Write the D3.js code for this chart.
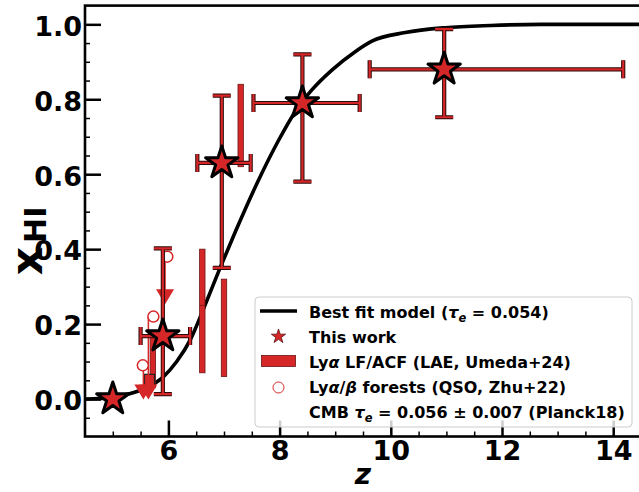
<!DOCTYPE html>
<html>
<head>
<meta charset="utf-8">
<script src="https://cdn.jsdelivr.net/npm/d3@7"></script>
<style>
  body { margin: 0; background: #fff; }
  svg { display: block; font-family: "DejaVu Sans", sans-serif; }
</style>
</head>
<body>
<svg id="chart" width="639" height="492"></svg>
<script>
// best fit model (tau_e = 0.054)
const modelZ = [4.5, 5.0, 5.3, 5.6, 5.9, 6.15, 6.4, 6.63, 6.93, 7.2, 7.62, 7.98, 8.28, 8.58, 8.94, 9.36, 9.66, 10.26, 10.98, 11.8, 12.7, 14.5];
const modelX = [0.0, 0.004, 0.014, 0.03, 0.058, 0.1, 0.16, 0.24, 0.35, 0.445, 0.584, 0.69, 0.767, 0.825, 0.878, 0.927, 0.955, 0.978, 0.991, 0.997, 1.0, 1.0];

// This work
const workZ = [5.0, 5.9, 6.96, 8.41, 10.96];
const workX = [0.0, 0.168, 0.63, 0.79, 0.88];
const workZlo = [null, 5.5, 6.52, 7.53, 9.62];
const workZhi = [null, 6.39, 7.48, 9.44, 14.18];
const workXlo = [null, 0.013, 0.35, 0.58, 0.752];
const workXhi = [null, 0.402, 0.81, 0.92, 0.987];

// Lya LF/ACF (LAE, Umeda+24)
const umedaZ = [5.72, 6.61, 7.0, 7.3];
const umedaLo = [0.03, 0.07, 0.06, 0.62];
const umedaHi = [0.18, 0.40, 0.32, 0.84];
const umedaMid = [null, 0.25, null, null];
const acfZ = [5.66];
const acfLo = [0.032];
const acfHi = [0.066];

// Lya/beta forests (QSO, Zhu+22): circles and upper-limit arrows
const zhuZ = [5.54, 5.73, 5.98];
const zhuX = [0.09, 0.22, 0.38];
const zhuLimZ = [5.55, 5.64, 5.94];
const zhuLimX = [0.019, 0.019, 0.273];

const red = "#d62728";

const svg = d3.select("#chart");
const width = +svg.attr("width");
const height = +svg.attr("height");

const x = d3.scaleLinear().domain([4.5, 14.5]).range([85, 641]);
const y = d3.scaleLinear().domain([-0.1, 1.05]).range([436.5, 5.6]);

svg.append("defs").append("clipPath").attr("id", "plot")
  .append("rect")
  .attr("x", x(4.5)).attr("y", y(1.05))
  .attr("width", x(14.5) - x(4.5)).attr("height", y(-0.1) - y(1.05));

const g = svg.append("g").attr("clip-path", "url(#plot)");

// MODEL CURVE
const line = d3.line()
  .x(d => x(d[0]))
  .y(d => y(d[1]))
  .curve(d3.curveMonotoneX);

g.append("path")
  .datum(d3.zip(modelZ, modelX))
  .attr("d", line)
  .attr("fill", "none")
  .attr("stroke", "#000")
  .attr("stroke-width", 3.6);

// UMEDA BARS
umedaZ.forEach((z, i) => {
  g.append("rect")
    .attr("x", x(z) - 2.7)
    .attr("y", y(umedaHi[i]))
    .attr("width", 5.4)
    .attr("height", y(umedaLo[i]) - y(umedaHi[i]))
    .attr("fill", red)
    .attr("stroke", "#6b1414")
    .attr("stroke-width", 0.8);
  if (umedaMid[i] != null) {
    g.append("line")
      .attr("x1", x(z) - 2.7).attr("x2", x(z) + 2.7)
      .attr("y1", y(umedaMid[i])).attr("y2", y(umedaMid[i]))
      .attr("stroke", "#6b1414").attr("stroke-width", 0.8);
  }
});

acfZ.forEach((z, i) => {
  g.append("rect")
    .attr("x", x(z) - 5)
    .attr("y", y(acfHi[i]))
    .attr("width", 10)
    .attr("height", y(acfLo[i]) - y(acfHi[i]))
    .attr("fill", red)
    .attr("stroke", "#222")
    .attr("stroke-width", 1.2);
});

// ZHU UPPER LIMITS
zhuZ.forEach((z, i) => {
  g.append("line")
    .attr("x1", x(zhuLimZ[i])).attr("x2", x(zhuLimZ[i]))
    .attr("y1", y(zhuX[i])).attr("y2", y(zhuLimX[i]))
    .attr("stroke", red).attr("stroke-width", 1.5);
  const tx = x(zhuLimZ[i]), ty = y(zhuLimX[i]);
  g.append("path")
    .attr("d", `M${tx - 9},${ty - 7.5}L${tx + 9},${ty - 7.5}L${tx},${ty + 7.5}Z`)
    .attr("fill", red);
});

zhuZ.forEach((z, i) => {
  g.append("circle")
    .attr("cx", x(z)).attr("cy", y(zhuX[i]))
    .attr("r", 5.5)
    .attr("fill", "#fff")
    .attr("stroke", red)
    .attr("stroke-width", 1.5);
});

// THIS WORK ERROR BARS
const cap = 9;
workZ.forEach((z, i) => {
  if (workZlo[i] == null) return;
  const cx = x(z), cy = y(workX[i]);
  const segs = [
    [x(workZlo[i]), cy, x(workZhi[i]), cy],
    [cx, y(workXlo[i]), cx, y(workXhi[i])],
    [x(workZlo[i]), cy - cap, x(workZlo[i]), cy + cap],
    [x(workZhi[i]), cy - cap, x(workZhi[i]), cy + cap],
    [cx - cap, y(workXlo[i]), cx + cap, y(workXlo[i])],
    [cx - cap, y(workXhi[i]), cx + cap, y(workXhi[i])]
  ];
  // dark outlines first, then red cores
  segs.forEach(s => g.append("line")
    .attr("x1", s[0]).attr("y1", s[1]).attr("x2", s[2]).attr("y2", s[3])
    .attr("stroke", "#2a0a0a").attr("stroke-width", 4.2));
  segs.forEach(s => g.append("line")
    .attr("x1", s[0]).attr("y1", s[1]).attr("x2", s[2]).attr("y2", s[3])
    .attr("stroke", red).attr("stroke-width", 2.2));
});

const star = d3.symbol().type(d3.symbolStar).size(17 * 17 / 0.8908130915292852);

g.selectAll(".star")
  .data(d3.zip(workZ, workX))
  .enter()
  .append("path")
  .attr("class", "star")
  .attr("transform", d => `translate(${x(d[0])},${y(d[1])})`)
  .attr("d", star)
  .attr("fill", red)
  .attr("stroke", "#000")
  .attr("stroke-width", 3)
  .attr("stroke-linejoin", "round");

// AXES
const tickFont = "27px";

const xAxis = svg.append("g")
  .attr("transform", `translate(0,${y(-0.1)})`)
  .call(d3.axisBottom(x).tickValues([6, 8, 10, 12, 14]).tickSizeInner(-16).tickSizeOuter(0).tickPadding(4));
xAxis.select(".domain").remove();
xAxis.selectAll(".tick line").attr("stroke-width", 2.5);
xAxis.selectAll("text")
  .style("font-size", tickFont).style("font-weight", "bold")
  .attr("fill", "#000").style("font-family", "DejaVu Sans");

const xMinor = svg.append("g")
  .attr("transform", `translate(0,${y(-0.1)})`)
  .call(d3.axisBottom(x).tickValues(d3.range(5, 14.6, 0.5).filter(v => v % 2 !== 0)).tickSizeInner(-5).tickSizeOuter(0).tickFormat(""));
xMinor.select(".domain").remove();
xMinor.selectAll(".tick line").attr("stroke-width", 1.5);

const yAxis = svg.append("g")
  .attr("transform", `translate(${x(4.5)},0)`)
  .call(d3.axisLeft(y).tickValues([0, 0.2, 0.4, 0.6, 0.8, 1.0]).tickFormat(d3.format(".1f")).tickSizeInner(-16).tickSizeOuter(0).tickPadding(3));
yAxis.select(".domain").remove();
yAxis.selectAll(".tick line").attr("stroke-width", 2.5);
yAxis.selectAll("text")
  .style("font-size", tickFont).style("font-weight", "bold")
  .attr("fill", "#000").attr("dy", "0.4em").style("font-family", "DejaVu Sans");

const yMinor = svg.append("g")
  .attr("transform", `translate(${x(4.5)},0)`)
  .call(d3.axisLeft(y).tickValues(d3.range(-0.05, 1.05, 0.05).filter(v => Math.abs(v * 5 - Math.round(v * 5)) > 0.01)).tickSizeInner(-5).tickSizeOuter(0).tickFormat(""));
yMinor.select(".domain").remove();
yMinor.selectAll(".tick line").attr("stroke-width", 1.5);

// spines
svg.append("rect")
  .attr("x", x(4.5)).attr("y", y(1.05))
  .attr("width", x(14.5) - x(4.5)).attr("height", y(-0.1) - y(1.05))
  .attr("fill", "none").attr("stroke", "#000").attr("stroke-width", 2.6);

// axis labels
svg.append("text")
  .attr("x", (x(4.5) + x(14.5)) / 2)
  .attr("y", 484)
  .attr("text-anchor", "middle")
  .style("font-size", "28px").style("font-weight", "bold").style("font-style", "italic")
  .text("z");

const yl = svg.append("text")
  .attr("transform", `translate(42,241) rotate(-90)`)
  .attr("text-anchor", "middle")
  .style("font-weight", "bold");
yl.append("tspan").style("font-size", "44px").text("x");
yl.append("tspan").style("font-size", "30px").attr("dx", 4).attr("dy", 4).text("HI");

// LEGEND
const lg = svg.append("g");
lg.append("rect")
  .attr("x", 255).attr("y", 297).attr("width", 377).attr("height", 130)
  .attr("rx", 4)
  .attr("fill", "#fff").attr("fill-opacity", 0.8)
  .attr("stroke", "#cccccc").attr("stroke-width", 1);

const rowY = [311, 336, 361, 386, 411];
const hx = 278.5;

lg.append("line")
  .attr("x1", 260).attr("x2", 297).attr("y1", rowY[0]).attr("y2", rowY[0])
  .attr("stroke", "#000").attr("stroke-width", 3.6);

lg.append("path")
  .attr("transform", `translate(${hx},${rowY[1] + 0.5})`)
  .attr("d", d3.symbol().type(d3.symbolStar).size(7.5 * 7.5 / 0.8908130915292852))
  .attr("fill", red).attr("stroke", "#5a0e0e").attr("stroke-width", 0.8);

lg.append("rect")
  .attr("x", 261.5).attr("y", rowY[2] - 5.5).attr("width", 34).attr("height", 11)
  .attr("fill", red).attr("stroke", "#6b1414").attr("stroke-width", 0.8);

lg.append("circle")
  .attr("cx", hx).attr("cy", rowY[3] + 1.5).attr("r", 5.5)
  .attr("fill", "none").attr("stroke", red).attr("stroke-width", 1);

const labels = [
  [{t: "Best fit model ("}, {t: "τ", i: true}, {t: "e", i: true, sub: true}, {t: " = 0.054)"}],
  [{t: "This work"}],
  [{t: "Ly"}, {t: "α", i: true}, {t: " LF/ACF (LAE, Umeda+24)"}],
  [{t: "Ly"}, {t: "α", i: true}, {t: "/"}, {t: "β", i: true}, {t: " forests (QSO, Zhu+22)"}],
  [{t: "CMB "}, {t: "τ", i: true}, {t: "e", i: true, sub: true}, {t: " = 0.056 ± 0.007 (Planck18)"}]
];

labels.forEach((parts, r) => {
  const t = lg.append("text")
    .attr("x", 309).attr("y", rowY[r] + 6.5)
    .style("font-size", "16px").style("font-weight", "bold");
  let shifted = false;
  parts.forEach(p => {
    const ts = t.append("tspan").text(p.t);
    if (p.i) ts.style("font-style", "italic");
    if (p.sub) { ts.style("font-size", "11.5px").attr("dy", 4); shifted = true; }
    else if (shifted) { ts.attr("dy", -4); shifted = false; }
  });
});
</script>
</body>
</html>
